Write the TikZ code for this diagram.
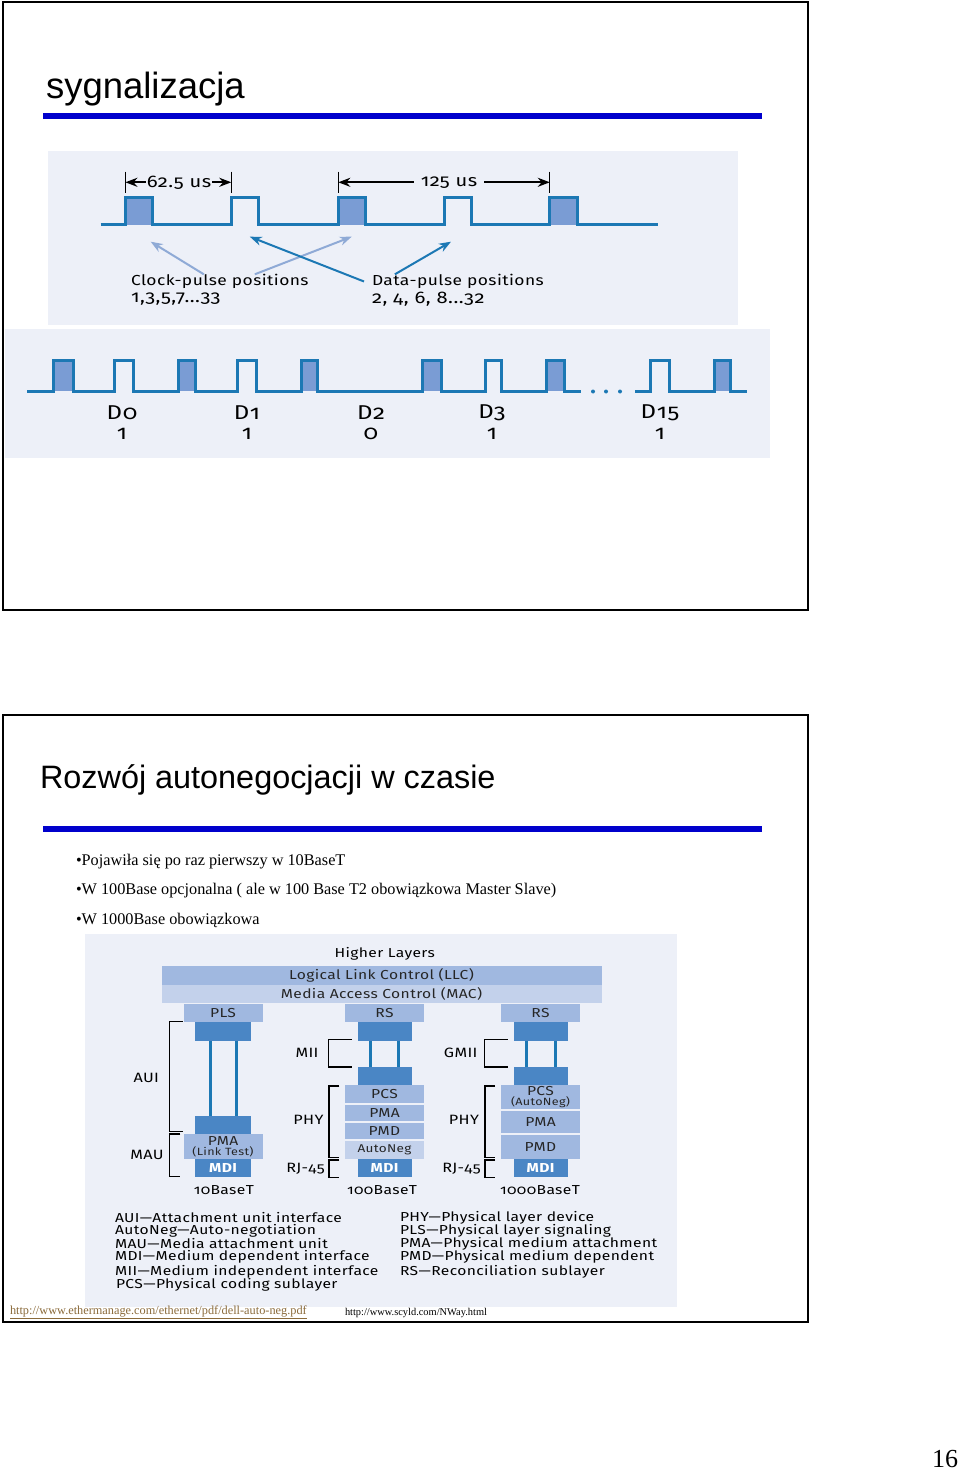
\documentclass[tikz,border=0pt]{standalone}
\usepackage{fontspec}
\setmainfont{Liberation Serif}
\newfontfamily\titlefont{Liberation Sans}
\newfontfamily\figfont[Numbers=OldStyle,LetterSpace=3,FakeStretch=1.2]{Fira Sans}
\usepackage{tikz}
\usetikzlibrary{arrows.meta, positioning}

\definecolor{panel}{HTML}{EDF0F8}
\definecolor{wave}{HTML}{1C78B4}
\definecolor{pulsefill}{HTML}{7A9CD4}
\definecolor{barblue}{HTML}{0000CC}
\definecolor{layerA}{HTML}{A0B8E0}
\definecolor{layerB}{HTML}{C3D1EB}
\definecolor{layerC}{HTML}{4A86C5}
\definecolor{hint}{HTML}{8FAAD6}
\definecolor{linkcol}{HTML}{8A6A3A}

\begin{document}
\begin{tikzpicture}[
      x=1pt, y=-1pt,
      >={Stealth},
      node distance=0pt,
      outer sep=0pt,
      frame/.style={draw=black, line width=2pt},
      heading/.style={anchor=west, inner sep=0pt, font=\titlefont\fontsize{36.5}{40}\selectfont},
      bullet/.style={anchor=west, inner sep=0pt, font=\fontsize{16.26}{20}\selectfont},
      small/.style={inner sep=0pt, font=\figfont\fontsize{14.5}{16}\selectfont},
      numbers/.style={inner sep=0pt, font=\figfont\fontsize{16.8}{18}\selectfont},
      tiny/.style={inner sep=0pt, font=\figfont\fontsize{13}{14}\selectfont},
      side/.style={inner sep=0pt, font=\figfont\fontsize{13.5}{14}\selectfont},
      legend/.style={tiny, anchor=west},
      wavepath/.style={draw=wave, line width=3pt, line join=miter},
      dimline/.style={draw=black, line width=2pt},
      layer/.style={inner sep=0pt, tiny, text=black!85},
      lightA/.style={layer, fill=layerA, minimum width=79pt},
      lightB/.style={layer, fill=layerB, minimum width=79pt},
      darkbox/.style={layer, fill=layerC, text=white, minimum height=18.5pt},
      wire/.style={draw=wave, line width=3pt},
      brack/.style={draw=black, line width=1.2pt},
    ]
    \useasboundingbox (0,0) rectangle (960,1471);

    % slide 1
    \draw[frame] (3,2) rectangle (808,610);
    \node[heading] (titleA) at (46,89) {sygnalizacja};
    \fill[barblue] (43,113.5) rectangle (762,119.5);
    \fill[panel] (48,151) rectangle (738,325);
    \fill[panel] (5,329) rectangle (770,458);

    % upper wave
    \foreach \a/\b in {125.4/152.7, 338.3/365.7, 549.8/577}
      \fill[pulsefill] (\a,225) rectangle (\b,197.5);
    \draw[wavepath] (100.5,225)
      \foreach \a/\b in {125.4/152.7, 231.3/258.7, 338.3/365.7, 444.3/471.1, 549.8/577}
        { -- (\a,225) -- (\a,197.5) -- (\b,197.5) -- (\b,225) }
      -- (657.5,225);

    \draw[black, line width=1pt] (125.4,171.7) -- (125.4,192.7);
    \draw[black, line width=1pt] (231.3,171.7) -- (231.3,192.7);
    \draw[black, line width=1pt] (338.3,171.7) -- (338.3,192.7);
    \draw[black, line width=1pt] (549.8,171.7) -- (549.8,192.7);
    \coordinate (tickA) at (125.4,182.3);
    \coordinate (tickB) at (231.3,182.3);
    \coordinate (tickC) at (338.3,182.3);
    \coordinate (tickD) at (549.8,182.3);
    \node[numbers, inner xsep=1pt] (shortgap) at (179,182.3) {62.5 us};
    \node[numbers, inner xsep=7pt] (longgap) at (449,182.3) {125 us};
    \draw[dimline, <-] (tickA) -- (shortgap);
    \draw[dimline, ->] (shortgap) -- (tickB);
    \draw[dimline, <-] (tickC) -- (longgap);
    \draw[dimline, ->] (longgap) -- (tickD);

    \node[small, anchor=west] (clockLabel) at (131,281.5) {Clock-pulse positions};
    \node[numbers, anchor=west] (clockNums) at (131,299) {1,3,5,7...33};
    \node[small, anchor=west] (dataLabel) at (372,281.5) {Data-pulse positions};
    \node[numbers, anchor=west] (dataNums) at (372,299) {2, 4, 6, 8...32};
    \coordinate (clockOne) at (150.7,241.7);
    \coordinate (clockTwo) at (351.7,236.7);
    \coordinate (dataOne) at (249.8,236.7);
    \coordinate (dataTwo) at (451,241.7);
    \draw[->, hint, line width=2pt] ([xshift=-16pt]clockLabel.north) -- (clockOne);
    \draw[->, hint, line width=2pt] ([xshift=35pt]clockLabel.north) -- (clockTwo);
    \draw[->, wave, line width=2pt] ([xshift=-8pt]dataLabel.west) -- (dataOne);
    \draw[->, wave, line width=2pt] ([xshift=-63pt]dataLabel.north) -- (dataTwo);

    % lower wave
    \foreach \a/\b in {53.7/73, 178/195.5, 301.5/317, 422.4/441.3, 546.3/564.7, 714/730.3}
      \fill[pulsefill] (\a,391) rectangle (\b,360.5);
    \draw[wavepath] (27,391)
      \foreach \a/\b in {53.7/73, 114.4/133.3, 178/195.5, 237.8/256.7, 301.5/317, 422.4/441.3, 485/501, 546.3/564.7}
        { -- (\a,391) -- (\a,360.5) -- (\b,360.5) -- (\b,391) }
      -- (581,391);
    \draw[wavepath] (635,391)
      \foreach \a/\b in {650.7/669, 714/730.3}
        { -- (\a,391) -- (\a,360.5) -- (\b,360.5) -- (\b,391) }
      -- (747,391);
    \foreach \x in {593,606,620}
      \fill[wave] (\x,391.5) circle (2);

    \foreach \name/\x/\lab/\bit in {dA/122/D0/1, dB/247/D1/1, dC/371/D2/0, dD/492/D3/1, dE/660/D15/1}{
      \node[small, font=\figfont\fontsize{20}{22}\selectfont] (\name) at (\x,413) {\lab};
      \node[small, font=\figfont\fontsize{20}{22}\selectfont] (\name bit) at (\x,434) {\bit};
    }

    % slide 2
    \draw[frame] (3,715) rectangle (808,1322);
    \node[heading, font=\titlefont\fontsize{32.4}{36}\selectfont] (titleB) at (40,779.5) {Rozwój autonegocjacji w czasie};
    \fill[barblue] (43,826) rectangle (762,832);
    \node[bullet] (bulA) at (76,862) {•Pojawiła się po raz pierwszy w 10BaseT};
    \node[bullet] (bulB) at (76,891) {•W 100Base opcjonalna ( ale w 100 Base T2 obowiązkowa Master Slave)};
    \node[bullet] (bulC) at (76,920.5) {•W 1000Base obowiązkowa};
    \fill[panel] (85,934) rectangle (677,1307);

    \node[tiny] (higher) at (384.8,954.3) {Higher Layers};
    \node[layer, fill=layerA, minimum width=440pt, minimum height=19pt] (llc) at (381.5,975.3) {Logical Link Control (LLC)};
    \node[layer, fill=layerB, minimum width=440pt, minimum height=18.5pt, below=of llc] (mac) {Media Access Control (MAC)};

    % 10BaseT
    \node[lightA, minimum height=18pt] (pls) at (223,1013) {PLS};
    \node[darkbox, minimum width=55.5pt, below=of pls] (plsTop) {};
    \node[darkbox, minimum width=55.5pt] (plsLow) at (223,1125) {};
    \node[lightA, minimum height=24.7pt, below=of plsLow, align=center] (pmaA)
      {PMA\\[-4pt]{\fontsize{10.5}{11}\selectfont (Link Test)}};
    \node[darkbox, minimum width=55.5pt, below=of pmaA] (mdiA) {\bfseries MDI};
    \node[tiny] (baseA) at (223.8,1190) {10BaseT};
    \draw[wire] ([xshift=-13pt]plsTop.south) -- ([xshift=-13pt]plsLow.north);
    \draw[wire] ([xshift=13.4pt]plsTop.south) -- ([xshift=13.4pt]plsLow.north);

    % 100BaseT
    \node[lightA, minimum height=18pt] (rsB) at (384.5,1013) {RS};
    \node[darkbox, minimum width=54pt, below=of rsB] (rsBTop) {};
    \node[darkbox, minimum width=54pt] (rsBLow) at (384.5,1076) {};
    \node[lightA, minimum height=17.7pt, below=of rsBLow] (pcsB) {PCS};
    \node[lightA, minimum height=16pt, below=2pt of pcsB] (pmaB) {PMA};
    \node[lightA, minimum height=16.3pt, below=2pt of pmaB] (pmdB) {PMD};
    \node[lightB, minimum height=18pt, below=1.7pt of pmdB, font=\figfont\fontsize{11.3}{12}\selectfont] (negB) {AutoNeg};
    \node[darkbox, minimum width=54pt, below=of negB] (mdiB) {\bfseries MDI};
    \node[tiny] (baseB) at (382,1190) {100BaseT};
    \draw[wire] ([xshift=-14.4pt]rsBTop.south) -- ([xshift=-14.4pt]rsBLow.north);
    \draw[wire] ([xshift=14pt]rsBTop.south) -- ([xshift=14pt]rsBLow.north);

    % 1000BaseT
    \node[lightA, minimum height=18pt] (rsC) at (540.5,1013) {RS};
    \node[darkbox, minimum width=54pt, below=of rsC] (rsCTop) {};
    \node[darkbox, minimum width=54pt] (rsCLow) at (540.5,1076) {};
    \node[lightA, minimum height=24pt, below=of rsCLow, align=center] (pcsC)
      {PCS\\[-4pt]{\fontsize{10.5}{11}\selectfont (AutoNeg)}};
    \node[lightA, minimum height=22pt, below=1.7pt of pcsC] (pmaC) {PMA};
    \node[lightA, minimum height=23.3pt, below=2.3pt of pmaC] (pmdC) {PMD};
    \node[darkbox, minimum width=54pt, below=of pmdC] (mdiC) {\bfseries MDI};
    \node[tiny] (baseC) at (540,1190) {1000BaseT};
    \draw[wire] ([xshift=-14.2pt]rsCTop.south) -- ([xshift=-14.2pt]rsCLow.north);
    \draw[wire] ([xshift=14.5pt]rsCTop.south) -- ([xshift=14.5pt]rsCLow.north);

    % brackets
    \draw[brack] (182.7,1021.7) -- (169.7,1021.7) -- (169.7,1131.3) -- (182.7,1131.3);
    \draw[brack] (180.4,1134) -- (169.7,1134) -- (169.7,1176.7) -- (180.4,1176.7);
    \draw[brack] (352,1039.3) -- (328.8,1039.3) -- (328.8,1067) -- (352,1067);
    \draw[brack] (339.4,1086) -- (329,1086) -- (329,1157.3) -- (339.4,1157.3);
    \draw[brack] (339.4,1160) -- (329,1160) -- (329,1177.7) -- (339.4,1177.7);
    \draw[brack] (507.5,1039.3) -- (484.5,1039.3) -- (484.5,1067) -- (507.5,1067);
    \draw[brack] (495,1086) -- (485,1086) -- (485,1157.3) -- (495,1157.3);
    \draw[brack] (495,1160) -- (485,1160) -- (485,1177.7) -- (495,1177.7);
    \node[side] (aui) at (146.3,1078) {AUI};
    \node[side] (mau) at (147,1155) {MAU};
    \node[side] (mii) at (307,1053) {MII};
    \node[side] (phyB) at (308.5,1120) {PHY};
    \node[side] (rjB) at (305.5,1169) {RJ-45};
    \node[side] (gmii) at (460.7,1053) {GMII};
    \node[side] (phyC) at (464,1120) {PHY};
    \node[side] (rjC) at (461.5,1169) {RJ-45};

    % legend
    \node[legend] (legA) at (115,1217.3) {AUI—Attachment unit interface};
    \node[legend] (legB) at (115,1230.3) {AutoNeg—Auto-negotiation};
    \node[legend] (legC) at (115,1243.7) {MAU—Media attachment unit};
    \node[legend] (legD) at (115,1257) {MDI—Medium dependent interface};
    \node[legend] (legE) at (115,1271.3) {MII—Medium independent interface};
    \node[legend] (legF) at (116,1284.7) {PCS—Physical coding sublayer};
    \node[legend] (legG) at (400,1217.3) {PHY—Physical layer device};
    \node[legend] (legH) at (400,1230.3) {PLS—Physical layer signaling};
    \node[legend] (legI) at (400,1243.7) {PMA—Physical medium attachment};
    \node[legend] (legJ) at (400,1257) {PMD—Physical medium dependent};
    \node[legend] (legK) at (400,1271.3) {RS—Reconciliation sublayer};

    \node[anchor=west, inner sep=0pt, text=linkcol, font=\fontsize{12.3}{13}\selectfont] (linkA) at (10,1312.5)
      {\underline{http://www.ethermanage.com/ethernet/pdf/dell-auto-neg.pdf}};
    \node[anchor=west, inner sep=0pt, font=\fontsize{10.4}{12}\selectfont] (linkB) at (345,1312.5)
      {http://www.scyld.com/NWay.html};

    \node[anchor=east, inner sep=0pt, font=\fontsize{26}{30}\selectfont] (pageno) at (958,1459) {16};
  \end{tikzpicture}
\end{document}
